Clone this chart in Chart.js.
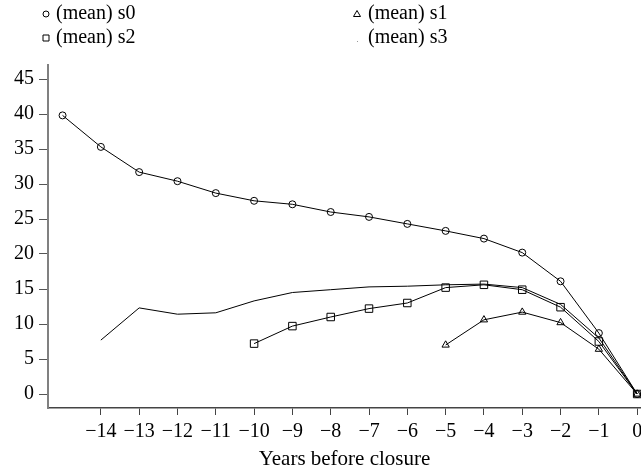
<!DOCTYPE html>
<html>
<head>
<meta charset="utf-8">
<script src="https://cdn.jsdelivr.net/npm/chart.js@4"></script>
<style>
  html, body { margin: 0; padding: 0; background: #fff; }
  #chart { display: block; }
</style>
</head>
<body>
<canvas id="chart" width="641" height="476"></canvas>
<script>
// data (years before closure, mean values)
const years = [-15, -14, -13, -12, -11, -10, -9, -8, -7, -6, -5, -4, -3, -2, -1, 0];
const s0 = [39.8, 35.3, 31.7, 30.4, 28.7, 27.6, 27.1, 26.0, 25.3, 24.3, 23.3, 22.2, 20.2, 16.1, 8.7, 0];
const s1 = [null, null, null, null, null, null, null, null, null, null, 7.0, 10.6, 11.7, 10.2, 6.4, 0];
const s2 = [null, null, null, null, null, 7.2, 9.7, 11.0, 12.2, 13.0, 15.2, 15.6, 14.9, 12.4, 7.5, 0];
const s3 = [null, 7.7, 12.3, 11.4, 11.6, 13.3, 14.5, 14.9, 15.3, 15.4, 15.6, 15.7, 15.2, 12.8, 8.0, 0];
const seriesNames = ['(mean) s0', '(mean) s1', '(mean) s2', '(mean) s3'];
const xTicks = [-14, -13, -12, -11, -10, -9, -8, -7, -6, -5, -4, -3, -2, -1, 0];
const yTicks = [0, 5, 10, 15, 20, 25, 30, 35, 40, 45];
const xTitle = 'Years before closure';

const FONT = "'Liberation Serif', 'DejaVu Serif', serif";
Chart.defaults.font.family = FONT;
Chart.defaults.color = '#000';

const toPoints = (vals) => years.map((x, i) => ({ x: x, y: vals[i] }));

function makeSet(label, vals, style, radius) {
    return {
        label: label,
        data: toPoints(vals),
        borderColor: '#000',
        borderWidth: 1,
        backgroundColor: 'rgba(0,0,0,0)',
        pointStyle: style,
        pointRadius: radius,
        pointBorderColor: '#000',
        pointBorderWidth: 1,
        pointBackgroundColor: 'rgba(0,0,0,0)',
        fill: false,
        tension: 0,
        spanGaps: false,
        clip: false
    };
}

// legend drawn in two columns, like the original
const legendPlugin = {
    id: 'twoColLegend',
    afterDraw(chart) {
        const ctx = chart.ctx;
        const spots = [
            { mx: 46, tx: 56, y: 14 },
            { mx: 357, tx: 368, y: 14 },
            { mx: 46, tx: 56, y: 38 },
            { mx: 357, tx: 368, y: 38 }
        ];
        ctx.save();
        ctx.strokeStyle = '#000';
        ctx.lineWidth = 1;
        spots.forEach((s, i) => {
            ctx.beginPath();
            if (i === 0) {
                ctx.arc(s.mx, s.y, 3, 0, Math.PI * 2);
                ctx.stroke();
            } else if (i === 1) {
                ctx.moveTo(s.mx, s.y - 3.5);
                ctx.lineTo(s.mx + 3.5, s.y + 2.5);
                ctx.lineTo(s.mx - 3.5, s.y + 2.5);
                ctx.closePath();
                ctx.stroke();
            } else if (i === 2) {
                ctx.rect(s.mx - 3, s.y - 3, 6, 6);
                ctx.stroke();
            } else {
                ctx.fillStyle = '#999';
                ctx.fillRect(s.mx, s.y + 3, 1, 1);
            }
            ctx.fillStyle = '#000';
            ctx.font = '20px ' + FONT;
            ctx.textBaseline = 'middle';
            ctx.textAlign = 'left';
            ctx.fillText(seriesNames[i], s.tx, s.y);
        });
        ctx.restore();
    }
};

new Chart(document.getElementById('chart'), {
    type: 'line',
    data: {
        datasets: [
            makeSet(seriesNames[0], s0, 'circle', 3.5),
            makeSet(seriesNames[1], s1, 'triangle', 4.2),
            makeSet(seriesNames[2], s2, 'rect', 5.3),
            makeSet(seriesNames[3], s3, 'circle', 0)
        ]
    },
    options: {
        responsive: false,
        animation: false,
        devicePixelRatio: 1,
        layout: { autoPadding: false, padding: { top: 65, left: 0, right: 0, bottom: 0 } },
        plugins: {
            legend: { display: false },
            tooltip: { enabled: false }
        },
        scales: {
            x: {
                type: 'linear',
                min: -15.38,
                max: 0.1,
                afterBuildTicks: (scale) => { scale.ticks = xTicks.map(v => ({ value: v })); },
                afterFit: (scale) => {
                    scale.height = 68;
                    scale.paddingLeft = 0;
                    scale.paddingRight = 0;
                },
                grid: { display: true, drawOnChartArea: false, drawTicks: true, tickLength: 7, color: '#444' },
                border: { display: true, color: '#444', width: 1.5 },
                ticks: {
                    font: { size: 20 },
                    padding: 5,
                    maxRotation: 0,
                    autoSkip: false,
                    callback: (v) => (v < 0 ? '\u2212' + Math.abs(v) : String(v))
                },
                title: {
                    display: true,
                    text: xTitle,
                    font: { size: 21 },
                    padding: { top: 0, bottom: 4 }
                }
            },
            y: {
                min: -2,
                max: 47,
                afterBuildTicks: (scale) => { scale.ticks = yTicks.map(v => ({ value: v })); },
                afterFit: (scale) => { scale.width = 48; },
                grid: { display: true, drawOnChartArea: false, drawTicks: true, tickLength: 9, color: '#555' },
                border: { display: true, color: '#808080', width: 2 },
                ticks: {
                    font: { size: 20 },
                    padding: 5,
                    autoSkip: false
                }
            }
        }
    },
    plugins: [legendPlugin]
});
</script>
</body>
</html>
